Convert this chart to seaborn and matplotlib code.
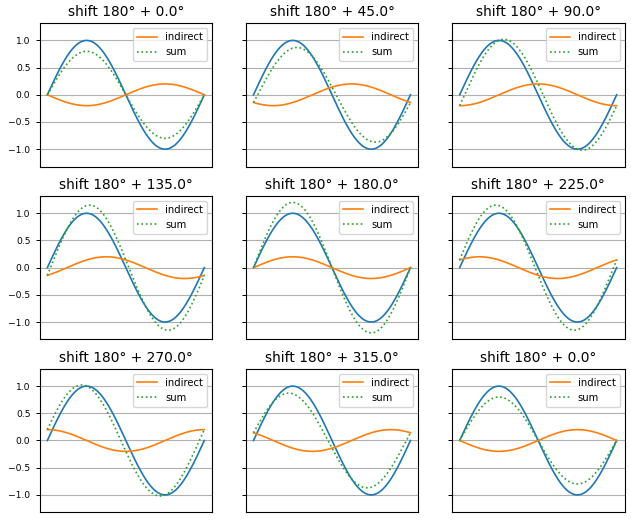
import numpy as np
import pandas as pd
import matplotlib
matplotlib.use("Agg")
import matplotlib.pyplot as plt
import seaborn as sns

# Data: phase offsets (degrees) added to the base 180° shift, per panel
base_shift_deg = 180
extra_shift_deg = [0.0, 45.0, 90.0, 135.0, 180.0, 225.0, 270.0, 315.0, 0.0]
direct_amplitude = 1.0
indirect_amplitude = 0.2
n_samples = 200
y_ticks = [-1.0, -0.5, 0.0, 0.5, 1.0]

x = np.linspace(0, 2 * np.pi, n_samples)

fig, axes = plt.subplots(3, 3, figsize=(6.31, 5.23), dpi=100, sharey=True)
fig.subplots_adjust(left=0.0626, right=0.9897, top=0.956, bottom=0.0205,
                    wspace=0.194, hspace=0.204)
for ax, extra in zip(axes.flat, extra_shift_deg):
    phase = np.deg2rad(base_shift_deg + extra)
    direct = direct_amplitude * np.sin(x)
    indirect = indirect_amplitude * np.sin(x + phase)
    total = direct + indirect
    df = pd.DataFrame({"x": x, "direct": direct, "indirect": indirect, "sum": total})
    sns.lineplot(data=df, x="x", y="direct", ax=ax, color="C0", linewidth=1.2)
    sns.lineplot(data=df, x="x", y="indirect", ax=ax, color="C1", linewidth=1.2, label="indirect")
    sns.lineplot(data=df, x="x", y="sum", ax=ax, color="C2", linewidth=1.2, linestyle=":", label="sum")
    ax.set_title(f"shift {base_shift_deg}° + {extra}°", fontsize=9.9, pad=4.8)
    ax.set_xticks([])
    ax.set_yticks(y_ticks)
    ax.tick_params(axis="y", labelsize=6.6, length=3, width=0.7)
    ax.set_xlabel("")
    ax.set_ylabel("")
    ax.grid(axis="y")
    for s in ax.spines.values():
        s.set_linewidth(0.8)
    ax.legend(loc="upper right", fontsize=7.2)

fig.savefig("out.png", dpi=100)
